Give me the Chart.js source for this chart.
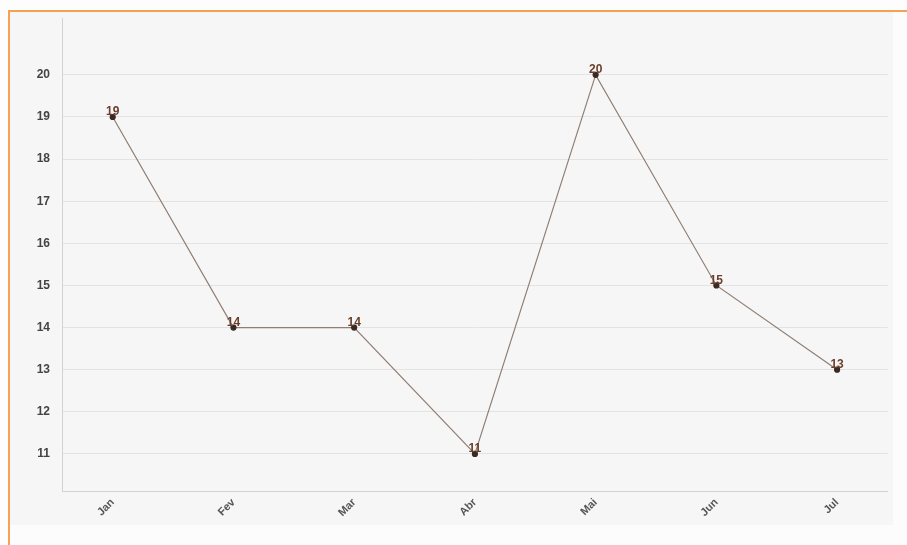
<!DOCTYPE html>
<html lang="pt">
<head>
  <meta charset="UTF-8">
  <title>Mensal</title>
  <script src="https://cdn.jsdelivr.net/npm/chart.js"></script>
  <style>
    html, body {
      margin: 0;
      padding: 0;
      width: 907px;
      height: 545px;
      background-color: #fdfdfd;
      overflow: hidden;
    }
    .frame {
      position: absolute;
      left: 8px;
      top: 10px;
      width: 899px;
      height: 535px;
      border-top: 2px solid #f7a154;
      border-left: 2px solid #f7a154;
      box-sizing: border-box;
      background-color: #fcfcfc;
    }
    .chart-container {
      position: absolute;
      left: 10px;
      top: 12px;
      width: 883px;
      height: 513px;
      background-color: #f6f6f6;
    }
  </style>
</head>
<body>
  <div class="frame"></div>
  <div class="chart-container">
    <canvas id="monthChart" width="883" height="513"></canvas>
  </div>

  <script>
    const months = ['Jan', 'Fev', 'Mar', 'Abr', 'Mai', 'Jun', 'Jul'];
    const values = [19, 14, 14, 11, 20, 15, 13];
    const yTicks = [11, 12, 13, 14, 15, 16, 17, 18, 19, 20];

    // draws the value above each point
    const valueLabels = {
      id: 'valueLabels',
      afterDatasetsDraw(chart) {
        const ctx = chart.ctx;
        const meta = chart.getDatasetMeta(0);
        ctx.save();
        ctx.font = 'bold 12px "Liberation Sans", Arial, sans-serif';
        ctx.fillStyle = '#6a3f2c';
        ctx.textAlign = 'center';
        ctx.textBaseline = 'bottom';
        meta.data.forEach((pt, i) => {
          ctx.fillText(values[i], pt.x, pt.y + 1);
        });
        ctx.restore();
      }
    };

    const ctx = document.getElementById('monthChart').getContext('2d');
    new Chart(ctx, {
      type: 'line',
      data: {
        datasets: [{
          data: values.map((v, i) => ({ x: i, y: v })),
          borderColor: '#8f7e74',
          borderWidth: 1.2,
          pointRadius: 2.5,
          pointBackgroundColor: '#3b2a22',
          pointBorderColor: '#3b2a22',
          tension: 0
        }]
      },
      options: {
        responsive: false,
        animation: false,
        layout: { padding: { top: 6, right: 5, left: 0, bottom: 0 } },
        plugins: {
          legend: { display: false },
          tooltip: { enabled: false }
        },
        scales: {
          x: {
            type: 'linear',
            min: -0.42,
            max: 6.42,
            afterBuildTicks: s => { s.ticks = months.map((m, i) => ({ value: i })); },
            afterFit: s => { s.height = 34; s.paddingLeft = 0; s.paddingRight = 0; },
            grid: { display: false, drawTicks: false },
            border: { color: '#d2d2d2', width: 1 },
            ticks: {
              autoSkip: false,
              minRotation: 45,
              maxRotation: 45,
              padding: 5,
              color: '#555',
              font: { family: '"Liberation Sans", Arial, sans-serif', size: 11, weight: 'bold' },
              callback: v => months[v]
            }
          },
          y: {
            min: 10.12,
            max: 21.35,
            afterBuildTicks: s => { s.ticks = yTicks.map(v => ({ value: v })); },
            afterFit: s => { s.width = 52; s.paddingTop = 0; s.paddingBottom = 0; },
            grid: { color: '#e3e3e3', lineWidth: 1, drawTicks: false },
            border: { color: '#d2d2d2', width: 1 },
            ticks: {
              padding: 12,
              color: '#444',
              font: { family: '"Liberation Sans", Arial, sans-serif', size: 12, weight: 'bold' }
            }
          }
        }
      },
      plugins: [valueLabels]
    });
  </script>
</body>
</html>
